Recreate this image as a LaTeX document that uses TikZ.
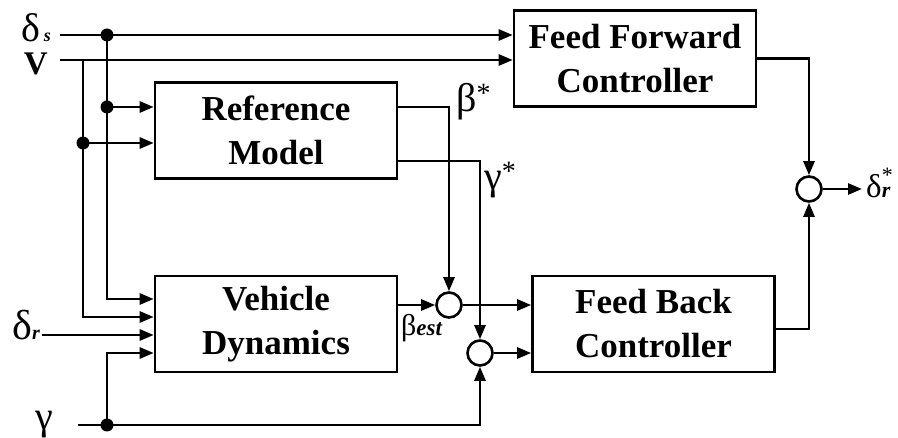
\documentclass[tikz,border=0pt]{standalone}
\usepackage{fontspec}
\setmainfont{Liberation Serif}
\usetikzlibrary{arrows.meta,calc}
\newcommand{\fsz}[1]{\fontsize{#1}{#1}\selectfont}
\tikzset{
  block/.style={draw,line width=2.6pt,inner sep=0pt,minimum width=242pt,
    minimum height=96pt,align=center,
    font=\fontsize{35}{44}\selectfont\bfseries},
  sumpt/.style={circle,draw,line width=2.6pt,inner sep=0pt,minimum size=25pt},
  wire/.style={line width=2.6pt},
  signal/.style={wire,-{Triangle[length=14pt,width=11pt]}},
  lbl/.style={inner sep=0pt,font=\fsz{40}}
}

\begin{document}
\begin{tikzpicture}[x=1pt,y=-1pt]
  \useasboundingbox (0,0) rectangle (898,438);
  % blocks and summing points
  \node[block] (ffc) at (635,58.5) {Feed Forward\\Controller};
  \node[block] (ref) at (276,130.5) {Reference\\Model};
  \node[block] (veh) at (276,324) {Vehicle\\Dynamics};
  \node[block] (fbc) at (653.5,324) {Feed Back\\Controller};
  \node[sumpt] (s1) at (449,305) {};
  \node[sumpt] (s2) at (480,353) {};
  \node[sumpt] (s3) at (809,189) {};
  % inputs and branch points
  \coordinate (dsin) at (60,35);
  \coordinate (vin) at (60,60);
  \coordinate (drin) at (42,335);
  \coordinate (gin) at (78,425);
  \coordinate (jA) at (107,35);
  \coordinate (jB) at (107,107);
  \coordinate (jC) at (83,60);
  \coordinate (jD) at (83,143);
  \coordinate (jE) at (107,425);
  \coordinate (rb) at ($(ref.east)+(0,-23.5)$);
  \coordinate (rg) at ($(ref.east)+(0,30.5)$);
  \coordinate (fbo) at ($(fbc.east)+(0,5)$);
  % signal names
  \node[lbl,anchor=base east,font=\fsz{40}] (lds) at (51,42)
    {δ{\fsz{18}\bfseries\itshape\,s}};
  \node[lbl,anchor=base east,font=\fsz{33}\bfseries] (lv) at (48,75) {V};
  \node[lbl,anchor=base east,font=\fsz{42}] (ldr) at (40,340)
    {δ{\fsz{20}\bfseries\itshape r}};
  \node[lbl,anchor=base east] (lg) at (53,430) {γ};
  \node[lbl,anchor=base west] (lb) at (456,112) {β\textsuperscript{*}};
  \node[lbl,anchor=base west] (lgs) at (484,190) {γ\textsuperscript{*}};
  \node[lbl,anchor=base west,font=\fsz{30}] (lbe) at (401,336)
    {β{\fsz{23}\bfseries\itshape est}};
  \node[lbl,anchor=base west,font=\fsz{33}] (ldo) at (866,198)
    {δ\rlap{\raisebox{15pt}{\fsz{22}*}}{\fsz{22}\bfseries\itshape r}};
  % connections
  \draw[signal] (dsin) -- (dsin -| ffc.west);
  \draw[signal] (vin) -- (vin -| ffc.west);
  \draw[wire] (jA) -- (jB);
  \draw[signal] (jB) -- (jB -| ref.west);
  \draw[signal] (jB) |- ($(veh.west)+(0,-25)$);
  \draw[signal] (jD) -- (jD -| ref.west);
  \draw[signal] (jC) |- ($(veh.west)+(0,-7)$);
  \draw[signal] (drin) -- (drin -| veh.west);
  \draw[signal] (jE) |- ($(veh.west)+(0,29)$);
  \draw[signal] (gin) -| (s2.south);
  \draw[signal] (rb) -| (s1.north);
  \draw[signal] (rg) -| (s2.north);
  \draw[signal] (s1 -| veh.east) -- (s1.west);
  \draw[signal] (s1.east) -- (s1 -| fbc.west);
  \draw[signal] (s2.east) -- (s2 -| fbc.west);
  \draw[signal] (fbo) -| (s3.south);
  \draw[signal] (ffc.east) -| (s3.north);
  \draw[signal] (s3.east) -- (s3 -| 862,0);
  \foreach \j in {jA,jB,jD,jE} \fill (\j) circle (6.5pt);
\end{tikzpicture}
\end{document}
